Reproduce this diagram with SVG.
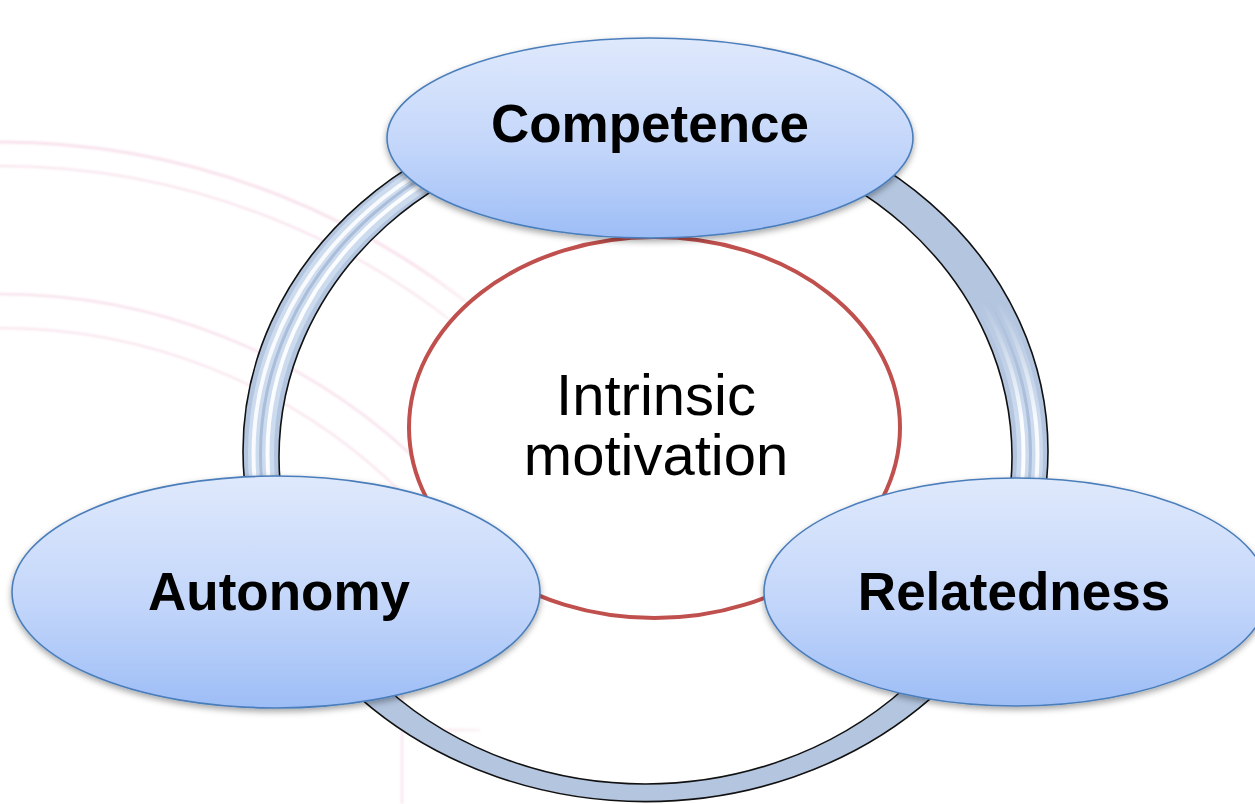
<svg xmlns="http://www.w3.org/2000/svg" width="1255" height="804" viewBox="0 0 1255 804">
  <defs>
    <style>
      .seal { fill: none; stroke: #f2c6da; stroke-opacity: 0.5; }
      .ring-edge { fill: none; stroke: #111; stroke-width: 1.6; }
      .gloss { fill: none; stroke: #ffffff; }
      .node { fill: url(#nodeFill); stroke: #4a7ebb; stroke-width: 1.6; filter: url(#shadow); }
      .label { font-family: "Liberation Sans", Arial, sans-serif; font-weight: bold; font-size: 53px; fill: #000; text-anchor: middle; }
      .core-text { font-family: "Liberation Sans", Arial, sans-serif; font-size: 58px; fill: #000; text-anchor: middle; }
    </style>
    <linearGradient id="nodeFill" x1="0" y1="0" x2="0" y2="1">
      <stop offset="0" stop-color="#dfe9fc"/>
      <stop offset="0.55" stop-color="#c3d6fa"/>
      <stop offset="1" stop-color="#9dbdf6"/>
    </linearGradient>
    <linearGradient id="sealFade" x1="0" y1="0" x2="1" y2="0">
      <stop offset="0" stop-color="#fff" stop-opacity="1"/>
      <stop offset="0.8" stop-color="#fff" stop-opacity="1"/>
      <stop offset="1" stop-color="#fff" stop-opacity="0"/>
    </linearGradient>
    <mask id="sealMask">
      <rect x="0" y="0" width="520" height="804" fill="url(#sealFade)"/>
    </mask>
    <!-- where the tube shows its glossy stripes -->
    <linearGradient id="glossFadeRight" x1="0" y1="0" x2="0" y2="1">
      <stop offset="0" stop-color="#fff" stop-opacity="0"/>
      <stop offset="0.6" stop-color="#fff" stop-opacity="1"/>
      <stop offset="1" stop-color="#fff" stop-opacity="1"/>
    </linearGradient>
    <mask id="glossMask">
      <rect x="0" y="0" width="470" height="490" fill="#fff"/>
      <rect x="930" y="300" width="325" height="200" fill="url(#glossFadeRight)"/>
    </mask>
    <filter id="shadow" x="-10%" y="-10%" width="120%" height="130%">
      <feDropShadow dx="0" dy="3" stdDeviation="3" flood-color="#000" flood-opacity="0.35"/>
    </filter>
    <filter id="soft" x="-5%" y="-5%" width="110%" height="110%">
      <feGaussianBlur stdDeviation="1.2"/>
    </filter>
  </defs>

  <rect width="1255" height="804" fill="#ffffff"/>

  <!-- faint seal in the background, left side only -->
  <g id="seal" filter="url(#soft)" mask="url(#sealMask)">
    <circle class="seal" cx="0" cy="900" r="758" stroke-width="3"/>
    <circle class="seal" cx="0" cy="900" r="734" stroke-width="2"/>
    <circle class="seal" cx="0" cy="900" r="606" stroke-width="2.5"/>
    <circle class="seal" cx="0" cy="900" r="572" stroke-width="2"/>
    <line class="seal" x1="402" y1="640" x2="402" y2="804" stroke-width="2"/>
    <line class="seal" x1="425" y1="730" x2="480" y2="730" stroke-width="3"/>
  </g>

  <!-- connecting ring behind the nodes -->
  <g id="connectors">
    <path d="M243 451 A402.5 350.6 0 1 0 1048 451 A402.5 350.6 0 1 0 243 451 Z
             M279 457 A366.5 327 0 1 0 1012 457 A366.5 327 0 1 0 279 457 Z"
          fill="#b3c5df" fill-rule="evenodd"/>
    <g mask="url(#glossMask)">
      <ellipse cx="645.5" cy="454" rx="384.5" ry="339" fill="none" stroke="#cddbef" stroke-width="26"/>
      <ellipse class="gloss" cx="645.5" cy="454" rx="392" ry="344.5" stroke-width="4" stroke-opacity="0.85"/>
      <ellipse class="gloss" cx="645.5" cy="454" rx="378" ry="334" stroke-width="4" stroke-opacity="0.9"/>
      <ellipse cx="645.5" cy="454" rx="385" ry="339.5" fill="none" stroke="#aabdd9" stroke-width="3"/>
    </g>
    <ellipse class="ring-edge" cx="645.5" cy="451" rx="402.5" ry="350.6"/>
    <ellipse class="ring-edge" cx="645.5" cy="457" rx="366.5" ry="327"/>
  </g>

  <!-- central circle -->
  <g id="intrinsic-motivation">
    <ellipse cx="654.5" cy="427.5" rx="245.5" ry="190.5" fill="#ffffff" stroke="#c0504d" stroke-width="4"/>
    <text class="core-text" x="656" y="415">Intrinsic</text>
    <text class="core-text" x="656" y="475">motivation</text>
  </g>

  <g id="competence">
    <ellipse class="node" cx="650" cy="138" rx="263" ry="100"/>
    <text class="label" x="650" y="142">Competence</text>
  </g>

  <g id="autonomy">
    <ellipse class="node" cx="276" cy="592" rx="264" ry="116"/>
    <text class="label" x="279" y="610">Autonomy</text>
  </g>

  <g id="relatedness">
    <ellipse class="node" cx="1016" cy="592" rx="252" ry="114"/>
    <text class="label" x="1014" y="610">Relatedness</text>
  </g>
</svg>
